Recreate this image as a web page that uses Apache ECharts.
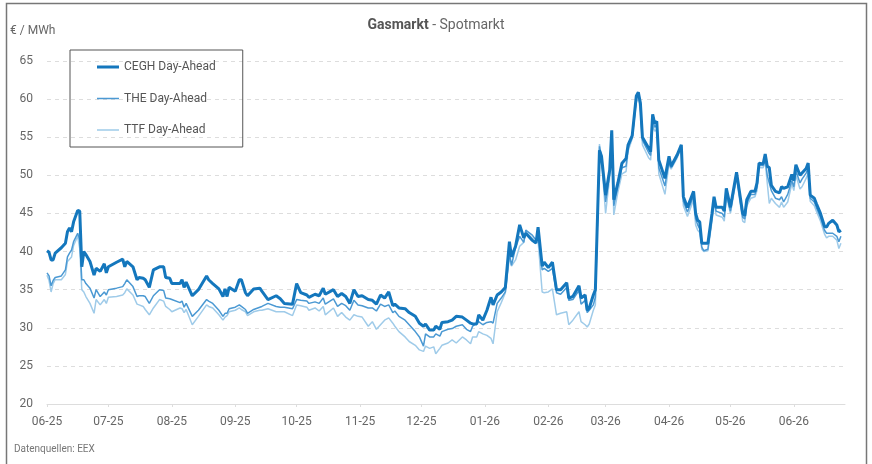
<!DOCTYPE html>
<html>
<head>
<meta charset="utf-8">
<title>Gasmarkt - Spotmarkt</title>
<script src="https://cdn.jsdelivr.net/npm/echarts@6/dist/echarts.min.js"></script>
<style>
  html, body { margin: 0; padding: 0; background: #fff; }
  #chart { width: 872px; height: 464px; }
</style>
</head>
<body>
<div id="chart"></div>
<script>
// Handelstage
const dates = [
  '2025-06-01','2025-06-02','2025-06-03','2025-06-04','2025-06-05','2025-06-08','2025-06-10','2025-06-11','2025-06-12','2025-06-13',
  '2025-06-14','2025-06-16','2025-06-17','2025-06-18','2025-06-19','2025-06-20','2025-06-22','2025-06-24','2025-06-25','2025-06-27',
  '2025-06-29','2025-06-30','2025-07-01','2025-07-05','2025-07-08','2025-07-09','2025-07-10','2025-07-13','2025-07-15','2025-07-16',
  '2025-07-18','2025-07-19','2025-07-21','2025-07-23','2025-07-26','2025-07-28','2025-07-29','2025-07-31','2025-08-01','2025-08-05',
  '2025-08-06','2025-08-07','2025-08-08','2025-08-11','2025-08-14','2025-08-18','2025-08-19','2025-08-21','2025-08-24','2025-08-26',
  '2025-08-27','2025-08-28','2025-08-29','2025-09-01','2025-09-03','2025-09-04','2025-09-06','2025-09-07','2025-09-10','2025-09-13',
  '2025-09-14','2025-09-17','2025-09-21','2025-09-23','2025-09-25','2025-09-29','2025-10-01','2025-10-03','2025-10-06','2025-10-07',
  '2025-10-10','2025-10-12','2025-10-14','2025-10-15','2025-10-19','2025-10-21','2025-10-23','2025-10-25','2025-10-27','2025-10-29',
  '2025-10-31','2025-11-02','2025-11-05','2025-11-07','2025-11-09','2025-11-11','2025-11-13','2025-11-15','2025-11-17','2025-11-18',
  '2025-11-20','2025-11-23','2025-11-25','2025-11-28','2025-11-30','2025-12-02','2025-12-03','2025-12-05','2025-12-07','2025-12-08',
  '2025-12-10','2025-12-11','2025-12-14','2025-12-16','2025-12-18','2025-12-21','2025-12-23','2025-12-25','2025-12-26','2025-12-28',
  '2025-12-29','2025-12-31','2026-01-02','2026-01-04','2026-01-05','2026-01-07','2026-01-09','2026-01-11','2026-01-13','2026-01-14',
  '2026-01-16','2026-01-18','2026-01-20','2026-01-21','2026-01-24','2026-01-26','2026-01-27','2026-01-29','2026-01-30','2026-02-01',
  '2026-02-03','2026-02-05','2026-02-07','2026-02-10','2026-02-11','2026-02-13','2026-02-16','2026-02-17','2026-02-19','2026-02-20',
  '2026-02-21','2026-02-23','2026-02-24','2026-02-26','2026-02-27','2026-03-01','2026-03-03','2026-03-04','2026-03-05','2026-03-07',
  '2026-03-09','2026-03-11','2026-03-12','2026-03-14','2026-03-16','2026-03-17','2026-03-18','2026-03-19','2026-03-22','2026-03-23',
  '2026-03-24','2026-03-25','2026-03-26','2026-03-27','2026-03-30','2026-04-01','2026-04-02','2026-04-05','2026-04-07','2026-04-08',
  '2026-04-10','2026-04-13','2026-04-14','2026-04-15','2026-04-16','2026-04-17','2026-04-18','2026-04-20','2026-04-22','2026-04-23',
  '2026-04-24','2026-04-27','2026-04-28','2026-04-29','2026-05-01','2026-05-04','2026-05-07','2026-05-08','2026-05-09','2026-05-11',
  '2026-05-13','2026-05-14','2026-05-15','2026-05-17','2026-05-18','2026-05-19','2026-05-20','2026-05-21','2026-05-23','2026-05-25',
  '2026-05-26','2026-05-27','2026-05-29','2026-05-31','2026-06-01','2026-06-02','2026-06-04','2026-06-05','2026-06-07','2026-06-08',
  '2026-06-09','2026-06-11','2026-06-12','2026-06-14','2026-06-16','2026-06-17','2026-06-18','2026-06-20','2026-06-22','2026-06-23',
  '2026-06-24'
];

const ceghValues = [
  40.1,39.9,38.9,38.9,39.8,40.5,41.1,42.6,43.1,42.6,
  43.9,45.4,45.3,38.0,40.0,39.6,38.7,36.9,37.8,37.4,
  38.4,37.2,38.0,38.6,39.0,38.0,38.7,38.0,36.3,36.6,
  36.5,36.3,35.3,37.6,38.0,38.0,36.6,36.5,35.8,35.8,
  36.3,35.3,36.0,34.2,35.0,36.8,36.3,35.8,35.1,34.1,
  35.1,34.1,35.3,34.8,36.3,36.3,34.6,34.2,35.1,35.2,
  34.8,33.7,34.2,33.8,33.2,33.1,35.8,34.6,34.3,34.0,
  34.4,34.2,35.2,34.4,35.0,34.1,34.5,34.1,33.2,35.0,
  34.1,34.2,33.7,33.6,33.1,34.3,33.9,34.7,32.9,33.1,
  32.6,32.5,32.0,31.5,30.6,30.2,30.5,29.7,29.7,30.2,
  29.8,30.7,30.8,31.0,31.5,31.4,31.0,30.6,30.5,30.5,
  31.7,31.0,32.3,34.0,33.0,34.3,34.7,35.3,41.3,39.3,
  40.7,43.5,41.8,42.4,41.5,41.1,43.2,38.1,38.6,37.9,
  38.6,35.0,35.0,35.9,33.9,34.1,35.5,33.9,34.3,32.3,
  32.6,34.3,35.0,53.3,52.5,47.4,50.7,55.9,46.8,49.0,
  51.6,52.2,54.0,55.2,60.4,60.9,59.5,55.0,53.6,53.1,
  58.0,56.8,57.1,52.0,49.6,52.5,51.2,52.7,54.0,47.2,
  45.8,47.9,45.0,44.1,43.9,41.1,41.1,41.1,45.0,47.2,
  45.8,45.8,45.3,48.3,45.8,50.4,45.0,44.7,46.8,47.9,
  47.9,49.0,51.6,51.5,52.8,51.2,51.0,48.7,47.9,47.7,
  48.5,48.3,48.5,50.1,49.3,51.4,50.0,50.3,50.9,51.6,
  47.4,47.0,46.3,45.0,43.3,43.2,43.7,44.1,43.5,42.6,
  42.8
];

const theValues = [
  37.2,36.8,35.5,36.2,36.6,36.8,37.6,39.3,39.8,40.2,
  41.3,42.4,41.5,36.3,36.3,35.8,35.2,33.9,35.0,34.1,
  34.7,34.3,35.0,35.2,35.4,35.8,36.3,35.4,34.1,34.2,
  34.2,34.1,33.2,34.2,35.0,34.9,33.9,33.8,33.7,33.3,
  33.5,32.7,33.2,31.5,32.3,33.7,33.5,33.2,32.3,31.5,
  31.9,31.9,32.5,32.7,33.0,32.8,32.4,31.9,32.4,32.7,
  32.8,33.2,32.8,32.7,32.7,32.5,33.7,33.6,33.5,33.2,
  33.4,33.2,33.9,33.1,33.8,32.8,33.2,32.9,32.3,33.6,
  33.0,32.9,32.6,32.6,32.2,33.1,32.8,33.0,32.0,32.2,
  31.5,31.0,30.4,29.5,28.8,27.6,29.2,28.8,28.8,29.2,
  28.9,29.5,29.8,29.9,30.2,30.4,29.8,29.5,30.2,30.6,
  30.8,30.4,30.7,30.8,30.6,33.2,33.9,34.7,39.8,38.2,
  40.5,42.0,41.2,42.8,42.2,41.5,42.4,37.6,37.8,37.4,
  37.8,34.6,34.4,35.3,33.6,33.7,34.9,33.1,33.6,32.0,
  32.3,33.0,34.0,53.8,52.3,46.5,50.3,55.5,46.0,48.6,
  51.0,51.2,53.6,55.0,60.0,60.6,59.0,54.6,53.0,52.6,
  57.5,56.3,56.6,51.0,48.6,52.0,51.0,52.5,53.8,46.6,
  45.2,47.3,44.3,43.5,43.0,40.6,40.1,40.3,44.5,46.8,
  45.3,45.0,44.5,47.8,45.3,50.0,44.5,44.3,46.3,47.5,
  47.5,48.5,51.3,51.3,52.2,50.0,49.0,48.0,47.0,46.8,
  47.2,46.5,47.5,49.3,48.5,50.6,49.0,49.5,50.3,51.0,
  47.0,46.5,45.8,44.5,42.8,42.4,42.4,42.4,42.0,41.3,
  42.0
];

const ttfValues = [
  36.9,36.2,34.7,35.8,36.3,36.3,37.0,38.7,39.0,39.3,
  40.8,42.0,40.4,35.0,34.7,34.1,33.2,31.9,33.7,33.0,
  33.7,33.2,34.0,34.1,34.3,34.6,35.1,34.3,33.1,33.0,
  32.8,32.4,31.7,32.6,33.7,33.5,32.8,32.4,32.1,32.6,
  32.5,32.0,32.4,30.4,31.5,33.0,32.8,32.6,31.7,31.0,
  31.4,31.6,32.1,32.3,32.6,32.4,32.1,31.6,32.1,32.3,
  32.3,32.5,32.1,32.1,32.1,31.6,33.0,32.9,32.7,32.3,
  32.6,32.2,32.8,31.7,32.6,31.5,32.0,31.4,31.0,31.7,
  31.5,31.4,30.2,30.8,29.8,30.4,31.0,31.3,30.6,30.2,
  29.5,28.8,28.2,27.7,27.1,26.9,27.6,27.3,27.5,26.6,
  27.3,27.7,28.0,28.4,28.0,28.8,28.4,27.9,28.8,28.8,
  29.5,29.2,29.0,28.6,27.9,32.1,33.3,34.6,39.3,38.1,
  38.9,40.7,41.2,42.6,41.8,41.3,41.5,34.7,34.6,34.7,
  35.1,31.7,31.9,32.1,30.4,31.0,32.1,30.8,30.4,30.1,
  30.5,32.3,33.0,54.1,52.0,45.0,49.8,55.0,44.8,47.8,
  50.2,50.5,53.2,54.8,59.6,60.2,58.5,54.0,52.3,52.0,
  56.5,55.8,56.0,50.2,47.5,51.5,50.8,52.3,53.6,46.0,
  44.6,46.8,43.5,42.8,42.5,40.3,40.0,40.1,44.0,46.5,
  44.8,44.5,44.0,47.3,45.0,49.6,44.0,43.8,46.0,47.0,
  47.2,48.0,51.0,51.0,51.8,49.0,46.3,47.0,46.3,45.8,
  46.5,45.8,46.5,48.9,48.0,50.0,48.2,48.5,49.6,50.3,
  46.6,46.0,45.3,44.0,42.3,41.8,42.0,42.0,41.5,40.4,
  41.1
];

const yTicks = [20, 25, 30, 35, 40, 45, 50, 55, 60, 65];

const toPairs = (vals) => dates.map((d, i) => [d, vals[i]]);

// Legenden-Symbol: waagerechter Strich, unsichtbare Punkte oben/unten halten die Box 22x12
const lineIcon = (h) =>
  'path://M0,0L0.01,0L0,0Z M0,' + (6 - h / 2) + 'H22V' + (6 + h / 2) + 'H0Z M0,12L0.01,12L0,12Z';

const chart = echarts.init(document.getElementById('chart'));

const option = {
  animation: false,
  textStyle: { fontFamily: 'Roboto, "Noto Sans", sans-serif' },
  title: {
    text: '{b|Gasmarkt} - Spotmarkt',
    left: 'center',
    top: 13,
    textStyle: {
      fontSize: 14,
      fontWeight: 'normal',
      color: '#666',
      rich: {
        b: { fontSize: 14, fontWeight: 'bold', color: '#555' }
      }
    }
  },
  legend: {
    orient: 'vertical',
    left: 70,
    top: 50,
    padding: [11, 27, 11, 27],
    itemGap: 19.5,
    itemWidth: 22,
    itemHeight: 12,
    borderColor: '#555',
    borderWidth: 1,
    textStyle: { color: '#555', fontSize: 12 },
    data: [
      { name: 'CEGH Day-Ahead', icon: lineIcon(3) },
      { name: 'THE Day-Ahead', icon: lineIcon(1.5) },
      { name: 'TTF Day-Ahead', icon: lineIcon(1.5) }
    ]
  },
  grid: { left: 47, right: 27, top: 61, bottom: 60 },
  xAxis: {
    type: 'time',
    min: '2025-06-01',
    max: '2026-06-26',
    splitNumber: 12,
    minInterval: 28 * 86400000,
    axisLine: { lineStyle: { color: '#ddd' } },
    axisTick: { show: true, length: 3, lineStyle: { color: '#ddd' } },
    splitLine: { show: false },
    axisLabel: {
      color: '#666',
      fontSize: 12,
      margin: 12,
      showMinLabel: true,
      formatter: (val) => echarts.time.format(val, '{MM}-{yy}', false)
    }
  },
  yAxis: {
    type: 'value',
    name: '€ / MWh',
    nameLocation: 'end',
    nameGap: 24,
    nameTextStyle: { color: '#666', fontSize: 12, align: 'left', padding: [0, 0, 0, -37] },
    min: yTicks[0],
    max: yTicks[yTicks.length - 1],
    interval: 5,
    axisLine: { show: false },
    axisTick: { show: false },
    axisLabel: { color: '#666', fontSize: 12, margin: 14 },
    splitLine: { lineStyle: { color: '#ddd', type: [4, 4] } }
  },
  series: [
    {
      name: 'TTF Day-Ahead',
      type: 'line',
      symbol: 'none',
      data: toPairs(ttfValues),
      lineStyle: { color: '#9fcbe9', width: 1.5 },
      itemStyle: { color: '#9fcbe9' },
      z: 2
    },
    {
      name: 'THE Day-Ahead',
      type: 'line',
      symbol: 'none',
      data: toPairs(theValues),
      lineStyle: { color: '#4b99d3', width: 1.5 },
      itemStyle: { color: '#4b99d3' },
      z: 3
    },
    {
      name: 'CEGH Day-Ahead',
      type: 'line',
      symbol: 'none',
      data: toPairs(ceghValues),
      lineStyle: { color: '#1477bd', width: 3 },
      itemStyle: { color: '#1477bd' },
      z: 4
    }
  ],
  graphic: [
    {
      type: 'polyline',
      silent: true,
      shape: { points: [[6.5, 470], [6.5, 3.5], [866.5, 3.5], [866.5, 470]] },
      style: { stroke: '#777', lineWidth: 1.5, fill: null }
    },
    {
      type: 'text',
      left: 14,
      top: 444,
      style: { text: 'Datenquellen: EEX', fill: '#777', fontSize: 10, fontFamily: 'Roboto, sans-serif' }
    }
  ]
};

chart.setOption(option);
</script>
</body>
</html>
